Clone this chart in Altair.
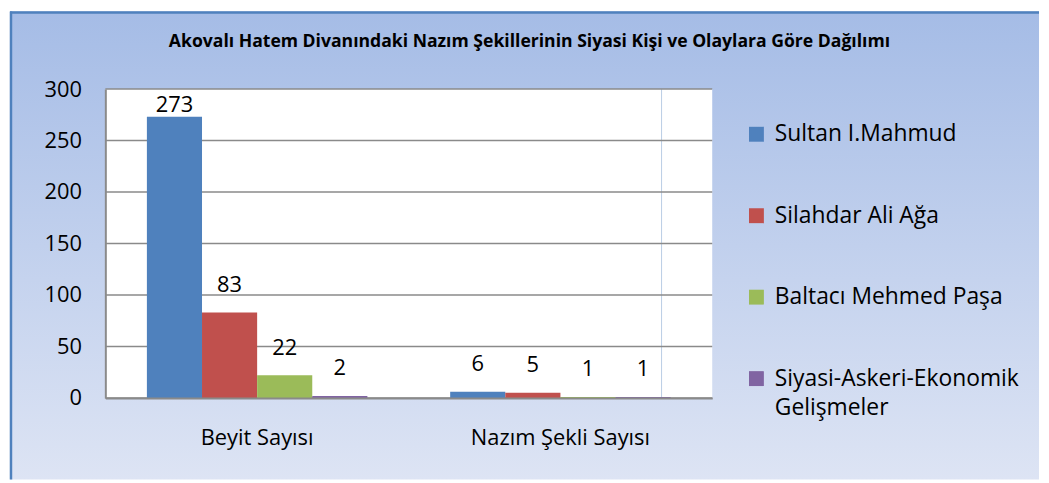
import altair as alt
import pandas as pd

categories = ["Beyit Sayısı", "Nazım Şekli Sayısı"]
series = ["Sultan I.Mahmud", "Silahdar Ali Ağa", "Baltacı Mehmed Paşa",
          "Siyasi-Askeri-Ekonomik Gelişmeler"]
beyit_values = [273, 83, 22, 2]
nazim_values = [6, 5, 1, 1]
colors = ["#4F81BD", "#C0504D", "#9BBB59", "#8064A2"]
y_ticks = [0, 50, 100, 150, 200, 250, 300]
title_text = "Akovalı Hatem Divanındaki Nazım Şekillerinin Siyasi Kişi ve Olaylara Göre Dağılımı"

rows = []
for s, v in zip(series, beyit_values):
    rows.append({"category": categories[0], "series": s, "value": v})
for s, v in zip(series, nazim_values):
    rows.append({"category": categories[1], "series": s, "value": v})
df = pd.DataFrame(rows)

W, H = 611, 311
FONT = "Open Sans"

one = alt.Data(values=[{}])

bg = alt.Chart(one).mark_rect(
    fill=alt.LinearGradient(
        gradient="linear", x1=0, y1=0, x2=0, y2=1,
        stops=[alt.GradientStop(color="#A5BCE6", offset=0),
               alt.GradientStop(color="#DDE4F4", offset=1)]),
).encode(x=alt.value(-96), x2=alt.value(940), y=alt.value(-78), y2=alt.value(393))

border = alt.Chart(one).mark_rule(color="#4F81BD", strokeWidth=2.5).encode(
    x=alt.value(-95), y=alt.value(-78), y2=alt.value(393))
border_top = alt.Chart(one).mark_rule(color="#4F81BD", strokeWidth=2.5).encode(
    x=alt.value(-96), x2=alt.value(940), y=alt.value(-77))

plot_bg = alt.Chart(one).mark_rect(fill="white").encode(
    x=alt.value(0), x2=alt.value(W), y=alt.value(0), y2=alt.value(H))

vline = alt.Chart(one).mark_rule(color="#B9CDE5", strokeWidth=1).encode(
    x=alt.value(560), y=alt.value(0), y2=alt.value(H))

yscale = alt.Scale(domain=[0, 300], nice=False, zero=True)
yaxis = alt.Axis(values=y_ticks, labelFont=FONT, labelFontSize=22,
                 labelColor="#000000", labelPadding=24, ticks=False,
                 grid=False, domainColor="#8A8A8A", domainWidth=2, zindex=1)

grid = alt.Chart(pd.DataFrame({"v": y_ticks})).mark_rule(
    color="#8A8A8A", strokeWidth=1.6).encode(
    y=alt.Y("v:Q", scale=yscale, axis=yaxis, title=None),
    x=alt.value(0), x2=alt.value(W))

xenc = alt.X("category:N", sort=categories, title=None,
             scale=alt.Scale(paddingInner=0.273, paddingOuter=0.137),
             axis=alt.Axis(labelFont=FONT, labelFontSize=22, labelColor="#000000",
                           labelPadding=30, ticks=False, domainColor="#8A8A8A",
                           domainWidth=2, labelAngle=0, zindex=1, labelLimit=400))
xoff = alt.XOffset("series:N", sort=series)

bars = alt.Chart(df).mark_bar().encode(
    x=xenc, xOffset=xoff,
    y=alt.Y("value:Q", scale=yscale, title=None, axis=yaxis),
    color=alt.Color("series:N", sort=series,
                    scale=alt.Scale(domain=series, range=colors),
                    legend=alt.Legend(
                        title=None, orient="none", legendX=644, legendY=34,
                        symbolType="square", symbolSize=225, symbolStrokeWidth=0,
                        labelFont=FONT, labelFontSize=23, labelColor="#000000",
                        labelOffset=7, rowPadding=58, padding=0, zindex=1,
                        labelLimit=400,
                        labelExpr="datum.label == 'Siyasi-Askeri-Ekonomik Gelişmeler' ? ['Siyasi-Askeri-Ekonomik', 'Gelişmeler'] : datum.label")),
)

labels = alt.Chart(df).transform_calculate(
    pos="min(datum.value + 20, 278)"
).mark_text(font=FONT, fontSize=22, color="#000000", baseline="alphabetic").encode(
    x=alt.X("category:N", sort=categories), xOffset=xoff,
    y=alt.Y("pos:Q", scale=yscale),
    text=alt.Text("value:Q"))

title = alt.Chart(one).mark_text(
    font=FONT, fontSize=17.7, fontWeight="bold", color="#000000",
    align="center", baseline="alphabetic").encode(
    x=alt.value(427), y=alt.value(-42), text=alt.value(title_text))

chart = alt.layer(bg, border, border_top, plot_bg, vline, grid, bars, labels, title).properties(
    width=W, height=H, padding=0
).configure_view(stroke=None).configure(
    background="transparent",
    style={"guide-label": {"lineHeight": 30}})

chart.save("out.html", embed_options={"renderer": "svg", "actions": False})
